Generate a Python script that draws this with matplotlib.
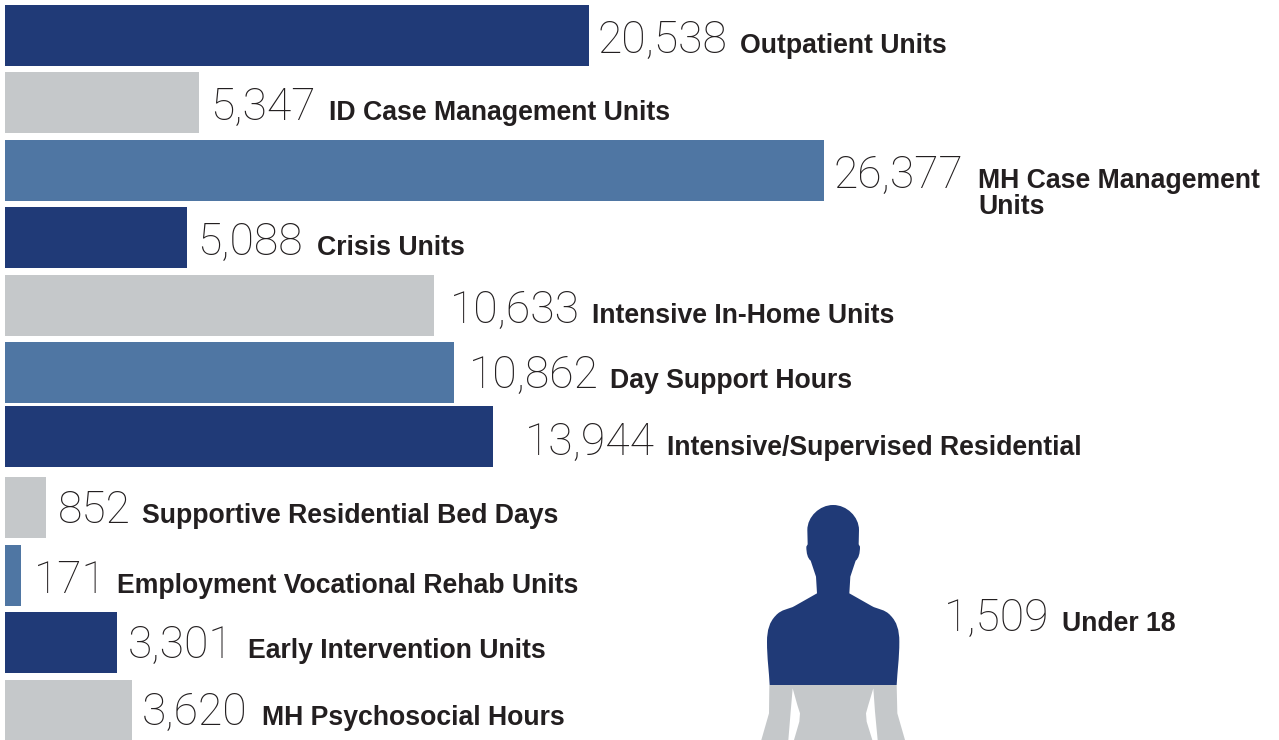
import matplotlib
matplotlib.use('Agg')
import matplotlib.pyplot as plt
from matplotlib.path import Path
from matplotlib.patches import PathPatch

# values as printed
values = ['20,538', '5,347', '26,377', '5,088', '10,633', '10,862', '13,944', '852', '171', '3,301', '3,620']
labels = ['Outpatient Units', 'ID Case Management Units', 'MH Case Management', 'Crisis Units',
          'Intensive In-Home Units', 'Day Support Hours', 'Intensive/Supervised Residential',
          'Supportive Residential Bed Days', 'Employment Vocational Rehab Units',
          'Early Intervention Units', 'MH Psychosocial Hours']
# bars in the original are not to scale, so lengths are read off the picture
bar_lengths = [584, 194, 819, 182, 429, 449, 488, 41, 16, 112, 127]

NAVY = '#203A77'
GRAY = '#C5C8CA'
BLUE = '#4F76A3'
TEXT = '#231F20'
bar_colors = [NAVY, GRAY, BLUE, NAVY, GRAY, BLUE, NAVY, GRAY, BLUE, NAVY, GRAY]

# layout, in pixels
bar_tops = [5, 72, 140, 207, 275, 342, 406, 477, 545, 612, 680]
bar_height = 61
num_x = [597, 210, 834, 197, 450, 469, 525, 58, 34, 128, 142]
label_x = [740, 329, 978, 317, 592, 610, 667, 142, 117, 248, 262]
baselines = [53, 120, 188, 255, 323, 388, 455, 523, 593, 658, 725]

NUM_SIZE = 32
LABEL_SIZE = 19.2

plt.rcParams['font.family'] = ['Liberation Sans', 'DejaVu Sans']

fig = plt.figure(figsize=(12.79, 7.40), dpi=100)
ax = fig.add_axes([0, 0, 1, 1])
ax.set_xlim(0, 1279)
ax.set_ylim(740, 0)
ax.axis('off')

ax.barh(bar_tops, bar_lengths, height=bar_height, left=5, align='edge', color=bar_colors)


def put_number(x, y, s):
    ax.text(x, y, s, family='Roboto', weight='light', fontsize=NUM_SIZE, color=TEXT, va='baseline')


def put_label(x, y, s):
    ax.text(x, y, s, weight='bold', fontsize=LABEL_SIZE, color=TEXT, va='baseline')


for i in range(len(values)):
    put_number(num_x[i], baselines[i], values[i])
    put_label(label_x[i], baselines[i], labels[i])

put_label(label_x[2], baselines[2] + 26, 'Units')
put_number(944, 631, '1,509')
put_label(1062, 631, 'Under 18')


def to_px(pts):
    return [(740 + x / 3, 495 + y / 3) for x, y in pts]


# right half of the head and shoulders, mirrored about x=279.5 for the left
C, L = Path.CURVE4, Path.LINETO
half = [((320, 30), C), ((357, 65), C), ((357, 105), C),
        ((356, 148), L), ((360, 155), L),
        ((360, 175), C), ((356, 190), C), ((347, 197), C),
        ((331, 245), L), ((328, 295), L), ((395, 333), L),
        ((412, 343), C), ((435, 342), C), ((452, 362), C),
        ((470, 380), C), ((478, 405), C), ((478, 440), C),
        ((478, 490), C), ((472, 530), C), ((470, 570), C)]
right_pts = [p for p, c in half]
right_codes = [c for p, c in half]
left_pts = [(559 - x, y) for x, y in reversed([(280, 30)] + right_pts[:-1])]
top_pts = [(280, 30)] + right_pts + [(559 - 470, 570)] + left_pts
top_codes = [Path.MOVETO] + right_codes + [L] + list(reversed(right_codes))
ax.add_patch(PathPatch(Path(to_px(top_pts), top_codes), facecolor=NAVY, edgecolor='none'))

low_pts = [(88, 570), (470, 570), (472, 655), (495, 735), (413, 735), (405, 650), (400, 580),
           (385, 630), (378, 655), (380, 680), (397, 735), (162, 735), (178, 680), (180, 655),
           (172, 630), (158, 580), (152, 650), (145, 735), (64, 735), (87, 655), (88, 570)]
low_codes = [Path.MOVETO] + [L] * 19 + [Path.CLOSEPOLY]
ax.add_patch(PathPatch(Path(to_px(low_pts), low_codes), facecolor=GRAY, edgecolor='none'))

fig.savefig('out.png', dpi=100)
